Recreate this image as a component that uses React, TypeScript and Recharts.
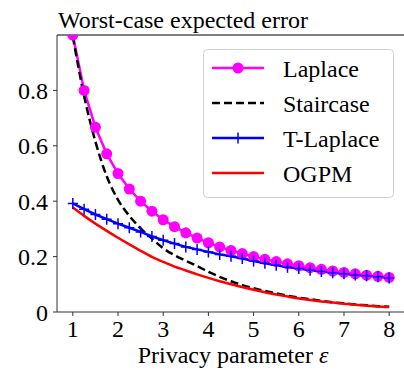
import { Line, LineChart, ReferenceLine, XAxis, YAxis } from "recharts";

const eps = [1, 1.25, 1.5, 1.75, 2, 2.25, 2.5, 2.75, 3, 3.25, 3.5, 3.75, 4, 4.25, 4.5, 4.75, 5, 5.25, 5.5, 5.75, 6, 6.25, 6.5, 6.75, 7, 7.25, 7.5, 7.75, 8];

const laplace = [1.0, 0.8, 0.667, 0.571, 0.5, 0.444, 0.4, 0.364, 0.333, 0.308, 0.286, 0.267, 0.25, 0.235, 0.222, 0.211, 0.2, 0.19, 0.182, 0.174, 0.167, 0.16, 0.154, 0.148, 0.143, 0.138, 0.133, 0.129, 0.125];

const staircase = [0.995, 0.78, 0.615, 0.49, 0.405, 0.347, 0.302, 0.265, 0.23, 0.205, 0.185, 0.166, 0.145, 0.127, 0.111, 0.097, 0.086, 0.076, 0.067, 0.059, 0.052, 0.046, 0.04, 0.035, 0.031, 0.027, 0.024, 0.021, 0.019];

const tLaplace = [0.392, 0.371, 0.352, 0.335, 0.319, 0.304, 0.289, 0.273, 0.259, 0.247, 0.235, 0.226, 0.217, 0.208, 0.201, 0.193, 0.184, 0.176, 0.169, 0.162, 0.157, 0.151, 0.146, 0.142, 0.138, 0.134, 0.131, 0.127, 0.123];

const ogpm = [0.377, 0.347, 0.319, 0.293, 0.268, 0.244, 0.221, 0.199, 0.181, 0.164, 0.15, 0.136, 0.123, 0.111, 0.1, 0.09, 0.08, 0.071, 0.063, 0.056, 0.049, 0.043, 0.038, 0.034, 0.03, 0.026, 0.023, 0.02, 0.018];

const xTicks = [1, 2, 3, 4, 5, 6, 7, 8];
const yTicks = [0, 0.2, 0.4, 0.6, 0.8];

const rows = eps.map((e, i) => ({
  eps: e,
  laplace: laplace[i],
  staircase: staircase[i],
  tLaplace: tLaplace[i],
  ogpm: ogpm[i],
}));

const txt = { fontFamily: "Liberation Serif", fontSize: 24 };
const axisColor = "#333";

function XTick(props: any) {
  const { x, y, payload } = props;
  return (
    <text x={x} y={y} dy={21} textAnchor="middle" style={txt} fill="#000">
      {payload.value}
    </text>
  );
}

function YTick(props: any) {
  const { x, y, payload } = props;
  const v = payload.value === 0 ? "0" : Number(payload.value).toFixed(1);
  return (
    <text x={x} y={y} dy={8.5} textAnchor="end" style={txt} fill="#000">
      {v}
    </text>
  );
}

function XLabel(props: any) {
  const { x, y, width } = props.viewBox;
  return (
    <text x={x + width / 2 + 2} y={y + 51} textAnchor="middle" style={txt} fill="#000">
      Privacy parameter <tspan fontStyle="italic">ε</tspan>
    </text>
  );
}

function PlusDot(props: any) {
  const { cx, cy, key } = props;
  return (
    <path
      key={key}
      d={`M${cx - 5},${cy}h10M${cx},${cy - 5.5}v11`}
      stroke="#0000ff"
      strokeWidth={1.5}
      fill="none"
    />
  );
}

const legendItems = [
  { name: "Laplace", color: "#ff00ff", dash: undefined, marker: "circle" },
  { name: "Staircase", color: "#000000", dash: "8 4", marker: "none" },
  { name: "T-Laplace", color: "#0000ff", dash: undefined, marker: "plus" },
  { name: "OGPM", color: "#ff0000", dash: undefined, marker: "none" },
];

export default function App() {
  return (
    <div style={{ position: "relative", width: 404, height: 372, overflow: "hidden", background: "#fff" }}>
      <style>{"body{margin:0}"}</style>
      <LineChart width={406} height={372} data={rows} margin={{ top: 35, right: 1, bottom: 0, left: 0 }}>
        <XAxis
          dataKey="eps"
          type="number"
          domain={[0.65, 8.35]}
          ticks={xTicks}
          allowDataOverflow
          height={60}
          tickSize={4}
          tickMargin={0}
          stroke={axisColor}
          tick={<XTick />}
          label={<XLabel />}
        />
        <YAxis
          type="number"
          domain={[0, 1]}
          ticks={yTicks}
          allowDataOverflow
          width={57}
          tickSize={4}
          tickMargin={5}
          stroke={axisColor}
          tick={<YTick />}
        />
        <ReferenceLine y={1} stroke="#000" strokeWidth={1} />
        <Line
          dataKey="laplace"
          stroke="#ff00ff"
          strokeWidth={2.5}
          dot={{ r: 5.5, fill: "#ff00ff", stroke: "#ff00ff", strokeWidth: 0 }}
          isAnimationActive={false}
        />
        <Line
          dataKey="staircase"
          stroke="#000000"
          strokeWidth={2.5}
          strokeDasharray="8 4"
          dot={false}
          type="monotone"
          isAnimationActive={false}
        />
        <Line
          dataKey="tLaplace"
          stroke="#0000ff"
          strokeWidth={2.5}
          dot={PlusDot}
          isAnimationActive={false}
        />
        <Line
          dataKey="ogpm"
          stroke="#ff0000"
          strokeWidth={2.5}
          dot={false}
          type="monotone"
          isAnimationActive={false}
        />
      </LineChart>
      <svg width={404} height={372} style={{ position: "absolute", left: 0, top: 0, pointerEvents: "none" }}>
        <text x={58} y={28} style={txt} fill="#000">
          Worst-case expected error
        </text>
        <rect x={203.5} y={49.5} width={190} height={148} rx={4} fill="rgba(255,255,255,0.8)" stroke="#d0d0d0" />
        {legendItems.map((it, i) => {
          const cy = 68 + i * 35;
          return (
            <g key={it.name}>
              <line x1={212} x2={264} y1={cy} y2={cy} stroke={it.color} strokeWidth={2.5} strokeDasharray={it.dash} />
              {it.marker === "circle" && <circle cx={238} cy={cy} r={5.5} fill={it.color} />}
              {it.marker === "plus" && (
                <path d={`M233,${cy}h10M238,${cy - 5.5}v11`} stroke={it.color} strokeWidth={1.5} />
              )}
              <text x={283} y={cy + 8.5} style={txt} fill="#000">
                {it.name}
              </text>
            </g>
          );
        })}
      </svg>
    </div>
  );
}
